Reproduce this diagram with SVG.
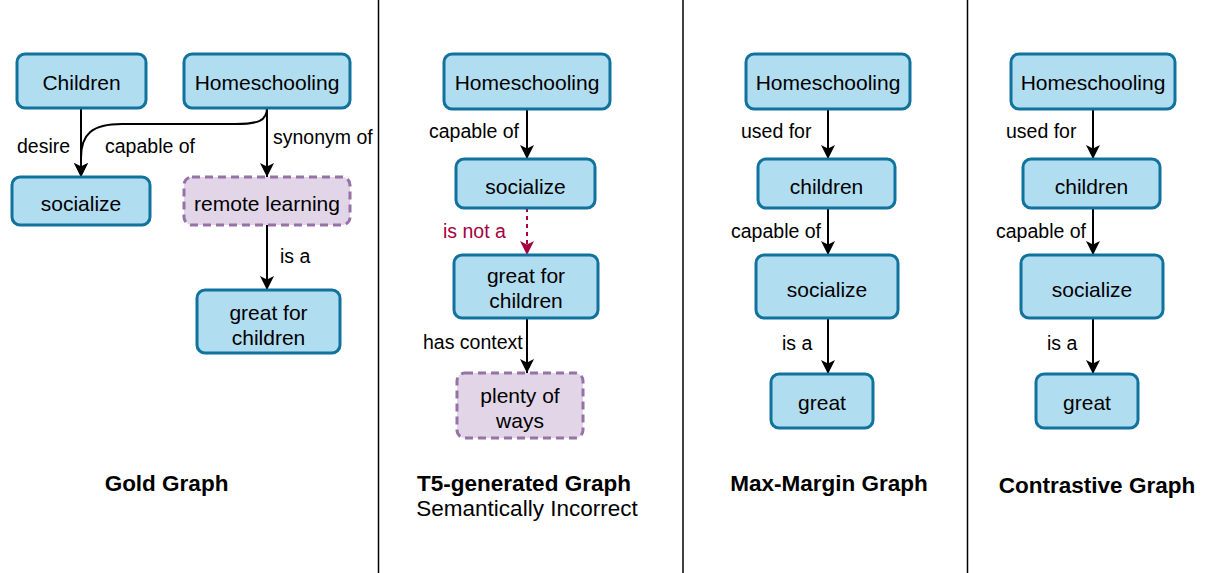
<svg xmlns="http://www.w3.org/2000/svg" width="1208" height="573" viewBox="0 0 1208 573">
<style>
.n{fill:#b1ddf0;stroke:#10739e;stroke-width:3}
.p{fill:#e1d5e7;stroke:#9673a6;stroke-width:3;stroke-dasharray:8 5}
.t{font-family:"Liberation Sans",Arial,sans-serif;font-size:21px;fill:#000;text-anchor:middle}
.l{font-family:"Liberation Sans",Arial,sans-serif;font-size:19.5px;fill:#000}
.e{fill:none;stroke:#000;stroke-width:2;marker-end:url(#a)}
.r{fill:none;stroke:#a50040;stroke-width:2;stroke-dasharray:4 4;marker-end:url(#ar)}
.h{font-family:"Liberation Sans",Arial,sans-serif;font-size:22.5px;font-weight:bold;fill:#000;text-anchor:middle}
.s{font-family:"Liberation Sans",Arial,sans-serif;font-size:22.5px;fill:#000;text-anchor:middle}
.d{stroke:#000;stroke-width:1.5}
</style>
<defs>
<marker id="a" viewBox="0 0 14 14" refX="14" refY="7" markerWidth="14" markerHeight="14" markerUnits="userSpaceOnUse" orient="auto"><path d="M0,0 L14,7 L0,14 L3.5,7 z" fill="#000"/></marker>
<marker id="ar" viewBox="0 0 14 14" refX="14" refY="7" markerWidth="14" markerHeight="14" markerUnits="userSpaceOnUse" orient="auto"><path d="M0,0 L14,7 L0,14 L3.5,7 z" fill="#a50040"/></marker>
</defs>
<rect width="1208" height="573" fill="#fff"/>
<g id="dividers">
<line class="d" x1="378.5" y1="0" x2="378.5" y2="573"/>
<line class="d" x1="683" y1="0" x2="683" y2="573"/>
<line class="d" x1="967.5" y1="0" x2="967.5" y2="573"/>
</g>
<g id="connectors">
<path class="e" d="M81,108 L81,177"/>
<path class="e" d="M267,108 L267,177"/>
<path class="e" d="M267,108 C267,121 258,124 235,124 L122,124 C92,124 81,134 81,158 L81,177"/>
<path class="e" d="M267,225 L267,290"/>
<path class="e" d="M527,109 L527,159"/>
<path class="r" d="M527,208 L527,255"/>
<path class="e" d="M527,318 L527,373"/>
<path class="e" d="M828,109 L828,159"/>
<path class="e" d="M828,208 L828,255"/>
<path class="e" d="M828,318 L828,374"/>
<path class="e" d="M1093,109 L1093,159"/>
<path class="e" d="M1093,208 L1093,255"/>
<path class="e" d="M1093,318 L1093,374"/>
</g>
<g id="edge-labels">
<text class="l" x="17" y="153">desire</text>
<text class="l" x="105" y="153">capable of</text>
<text class="l" x="273" y="144">synonym of</text>
<text class="l" x="280" y="263">is a</text>
<text class="l" x="429" y="138">capable of</text>
<text class="l" x="443" y="238" style="fill:#a50040">is not a</text>
<text class="l" x="423" y="349">has context</text>
<text class="l" x="741" y="138">used for</text>
<text class="l" x="731" y="238">capable of</text>
<text class="l" x="782" y="350">is a</text>
<text class="l" x="1006" y="138">used for</text>
<text class="l" x="996" y="238">capable of</text>
<text class="l" x="1047" y="350">is a</text>
</g>
<g id="gold-children"><rect class="n" x="17" y="54" width="129" height="54" rx="8"/><text class="t" x="81.5" y="90">Children</text></g>
<g id="gold-homeschooling"><rect class="n" x="184" y="54" width="166" height="54" rx="8"/><text class="t" x="267" y="90">Homeschooling</text></g>
<g id="gold-socialize"><rect class="n" x="12" y="177" width="138" height="48" rx="8"/><text class="t" x="81" y="211">socialize</text></g>
<g id="gold-remote"><rect class="p" x="184" y="177" width="166" height="48" rx="8"/><text class="t" x="267" y="211">remote learning</text></g>
<g id="gold-great"><rect class="n" x="197" y="290" width="143" height="63" rx="8"/><text class="t" x="268.5" y="320">great for</text><text class="t" x="268.5" y="345">children</text></g>
<g id="t5-homeschooling"><rect class="n" x="444" y="54" width="166" height="55" rx="8"/><text class="t" x="527" y="90">Homeschooling</text></g>
<g id="t5-socialize"><rect class="n" x="456" y="159" width="139" height="49" rx="8"/><text class="t" x="525.5" y="194">socialize</text></g>
<g id="t5-great"><rect class="n" x="454" y="255" width="144" height="63" rx="8"/><text class="t" x="526" y="283">great for</text><text class="t" x="526" y="308">children</text></g>
<g id="t5-plenty"><rect class="p" x="457" y="373" width="126" height="65" rx="8"/><text class="t" x="520" y="403">plenty of</text><text class="t" x="520" y="428">ways</text></g>
<g id="mm-homeschooling"><rect class="n" x="746" y="54" width="164" height="55" rx="8"/><text class="t" x="828" y="90">Homeschooling</text></g>
<g id="mm-children"><rect class="n" x="758" y="159" width="137" height="49" rx="8"/><text class="t" x="826.5" y="194">children</text></g>
<g id="mm-socialize"><rect class="n" x="756" y="255" width="142" height="63" rx="8"/><text class="t" x="827" y="297">socialize</text></g>
<g id="mm-great"><rect class="n" x="771" y="374" width="102" height="54" rx="8"/><text class="t" x="822" y="410">great</text></g>
<g id="c-homeschooling"><rect class="n" x="1011" y="54" width="164" height="55" rx="8"/><text class="t" x="1093" y="90">Homeschooling</text></g>
<g id="c-children"><rect class="n" x="1023" y="159" width="137" height="49" rx="8"/><text class="t" x="1091.5" y="194">children</text></g>
<g id="c-socialize"><rect class="n" x="1021" y="255" width="142" height="63" rx="8"/><text class="t" x="1092" y="297">socialize</text></g>
<g id="c-great"><rect class="n" x="1036" y="374" width="102" height="54" rx="8"/><text class="t" x="1087" y="410">great</text></g>
<g id="titles">
<text class="h" x="166.5" y="491">Gold Graph</text>
<text class="h" x="524" y="491">T5-generated Graph</text>
<text class="s" x="527" y="516">Semantically Incorrect</text>
<text class="h" x="829" y="491">Max-Margin Graph</text>
<text class="h" x="1097" y="493">Contrastive Graph</text>
</g>
</svg>
